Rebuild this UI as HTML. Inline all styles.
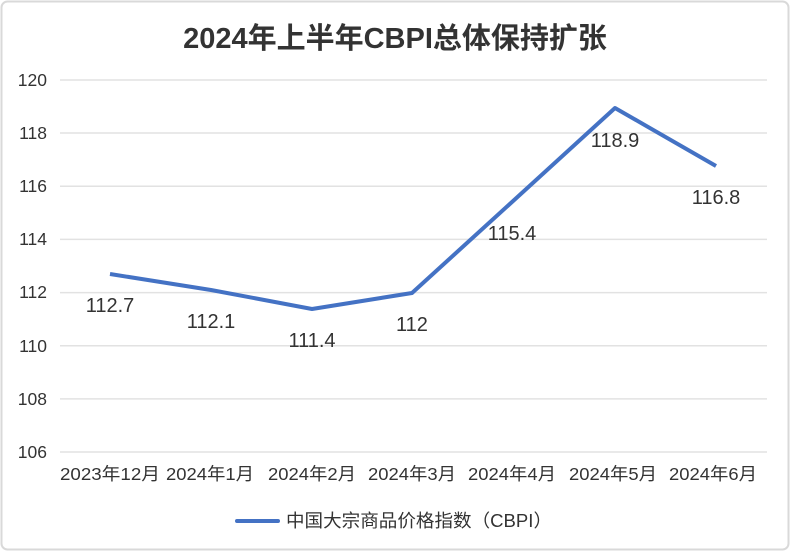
<!DOCTYPE html>
<html><head><meta charset="utf-8"><style>
body{margin:0;background:#fff;}
svg{display:block;font-family:"Liberation Sans","Noto Sans CJK SC",sans-serif;}
</style></head><body>
<svg width="790" height="552" viewBox="0 0 790 552">
<rect x="1.5" y="1.5" width="787" height="548" rx="6" fill="#fff" stroke="#d9d9d9" stroke-width="2"/>
<text x="395" y="48" text-anchor="middle" font-size="29" font-weight="bold" fill="#333">2024年上半年CBPI总体保持扩张</text>
<g stroke="#e2e2e2" stroke-width="1.5">
<line x1="60" x2="767" y1="80" y2="80"/>
<line x1="60" x2="767" y1="133" y2="133"/>
<line x1="60" x2="767" y1="186.3" y2="186.3"/>
<line x1="60" x2="767" y1="239.4" y2="239.4"/>
<line x1="60" x2="767" y1="292.6" y2="292.6"/>
<line x1="60" x2="767" y1="345.7" y2="345.7"/>
<line x1="60" x2="767" y1="398.9" y2="398.9"/>
<line x1="60" x2="767" y1="452" y2="452"/>
</g>
<g font-size="17.5" fill="#333" text-anchor="end">
<text x="47" y="86">120</text>
<text x="47" y="139">118</text>
<text x="47" y="192">116</text>
<text x="47" y="245">114</text>
<text x="47" y="298">112</text>
<text x="47" y="352">110</text>
<text x="47" y="405">108</text>
<text x="47" y="458">106</text>
</g>
<g font-size="17.5" fill="#333" text-anchor="middle">
<text x="110" y="480" textLength="100" lengthAdjust="spacingAndGlyphs">2023年12月</text>
<text x="210" y="480" textLength="88" lengthAdjust="spacingAndGlyphs">2024年1月</text>
<text x="312" y="480" textLength="88" lengthAdjust="spacingAndGlyphs">2024年2月</text>
<text x="412" y="480" textLength="88" lengthAdjust="spacingAndGlyphs">2024年3月</text>
<text x="512" y="480" textLength="88" lengthAdjust="spacingAndGlyphs">2024年4月</text>
<text x="613" y="480" textLength="88" lengthAdjust="spacingAndGlyphs">2024年5月</text>
<text x="713" y="480" textLength="88" lengthAdjust="spacingAndGlyphs">2024年6月</text>
</g>
<polyline points="110,274 211,290 312,309 412,293 512,202 615,108 716,166" fill="none" stroke="#4472c4" stroke-width="4" stroke-linejoin="round"/>
<g font-size="20" fill="#333" text-anchor="middle">
<text x="110" y="312">112.7</text>
<text x="211" y="328">112.1</text>
<text x="312" y="347">111.4</text>
<text x="412" y="331">112</text>
<text x="512" y="240">115.4</text>
<text x="615" y="147">118.9</text>
<text x="716" y="204">116.8</text>
</g>
<line x1="237" x2="278" y1="521" y2="521" stroke="#4472c4" stroke-width="4" stroke-linecap="round"/>
<text x="286" y="527" font-size="18" fill="#333" textLength="266" lengthAdjust="spacingAndGlyphs">中国大宗商品价格指数（CBPI）</text>
</svg>
</body></html>
